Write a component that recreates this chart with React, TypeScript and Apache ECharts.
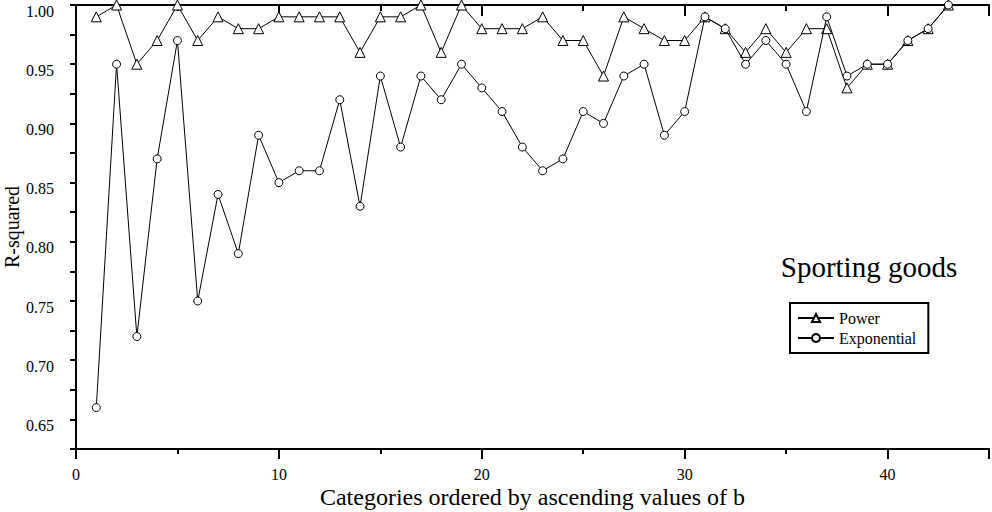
import { useEffect, useRef } from "react";
import * as echarts from "echarts";

// Category rank (ordered by ascending b)
const rank = [
  1, 2, 3, 4, 5, 6, 7, 8, 9, 10, 11, 12, 13, 14, 15, 16, 17, 18, 19, 20, 21,
  22, 23, 24, 25, 26, 27, 28, 29, 30, 31, 32, 33, 34, 35, 36, 37, 38, 39, 40,
  41, 42, 43,
];

// R-squared of the power-law fit
const powerR2 = [
  0.99, 1.0, 0.95, 0.97, 1.0, 0.97, 0.99, 0.98, 0.98, 0.99, 0.99, 0.99, 0.99,
  0.96, 0.99, 0.99, 1.0, 0.96, 1.0, 0.98, 0.98, 0.98, 0.99, 0.97, 0.97, 0.94,
  0.99, 0.98, 0.97, 0.97, 0.99, 0.98, 0.96, 0.98, 0.96, 0.98, 0.98, 0.93, 0.95,
  0.95, 0.97, 0.98, 1.0,
];

// R-squared of the exponential fit
const exponentialR2 = [
  0.66, 0.95, 0.72, 0.87, 0.97, 0.75, 0.84, 0.79, 0.89, 0.85, 0.86, 0.86, 0.92,
  0.83, 0.94, 0.88, 0.94, 0.92, 0.95, 0.93, 0.91, 0.88, 0.86, 0.87, 0.91, 0.9,
  0.94, 0.95, 0.89, 0.91, 0.99, 0.98, 0.95, 0.97, 0.95, 0.91, 0.99, 0.94, 0.95,
  0.95, 0.97, 0.98, 1.0,
];

const seriesNames = ["Power", "Exponential"];
const panelTitle = "Sporting goods";
const xAxisTitle = "Categories ordered by ascending values of b";
const yAxisTitle = "R-squared";

const FONT = "'Liberation Serif', 'Times New Roman', 'DejaVu Serif', serif";
const INK = "#000";

export default function App() {
  const ref = useRef<HTMLDivElement>(null);

  useEffect(() => {
    if (!ref.current) return;
    const chart = echarts.init(ref.current, null, { renderer: "svg" });

    const axisLine = { show: true, lineStyle: { color: INK, width: 2 } };
    const noSplit = { show: false };

    const xBase = { type: "value" as const, min: 0, max: 45, splitLine: noSplit };
    const yBase = { type: "value" as const, min: 0.625, max: 1.0, interval: 0.025, splitLine: noSplit };

    chart.setOption({
      animation: false,
      backgroundColor: "#fff",
      grid: {
        left: 76,
        right: 3,
        top: 5,
        bottom: 63,
        containLabel: false,
        outerBoundsMode: "none",
      },
      xAxis: [
        {
          ...xBase,
          position: "bottom",
          interval: 5,
          axisLine,
          axisTick: { show: true, inside: false, length: 5, lineStyle: { color: INK, width: 2 } },
          axisLabel: {
            margin: 17,
            color: INK,
            fontFamily: FONT,
            fontSize: 16,
            showMaxLabel: false,
            formatter: (v: number) => (Math.round(v) % 10 === 0 ? String(Math.round(v)) : ""),
          },
          name: xAxisTitle,
          nameLocation: "middle",
          nameGap: 36,
          nameMoveOverlap: false,
          nameTextStyle: { color: INK, fontFamily: FONT, fontSize: 24 },
        },
        {
          ...xBase,
          position: "bottom",
          interval: 10,
          axisLine: { show: false },
          axisTick: { show: true, inside: false, length: 10, lineStyle: { color: INK, width: 2 } },
          axisLabel: { show: false },
        },
        {
          ...xBase,
          position: "top",
          interval: 5,
          axisLine,
          axisTick: { show: true, inside: true, length: 6, lineStyle: { color: INK, width: 2 } },
          axisLabel: { show: false },
        },
        {
          ...xBase,
          position: "top",
          interval: 10,
          axisLine: { show: false },
          axisTick: { show: true, inside: true, length: 11, lineStyle: { color: INK, width: 2 } },
          axisLabel: { show: false },
        },
      ],
      yAxis: [
        {
          ...yBase,
          position: "left",
          axisLine,
          axisTick: { show: true, inside: false, length: 6, lineStyle: { color: INK, width: 2 } },
          axisLabel: {
            margin: 22,
            color: INK,
            fontFamily: FONT,
            fontSize: 16,
            verticalAlign: "top",
            lineHeight: 12,
            formatter: (v: number) => {
              const k = Math.round(v * 1000);
              return k % 50 === 0 ? (k / 1000).toFixed(2) : "";
            },
          },
          name: yAxisTitle,
          nameLocation: "middle",
          nameGap: 54,
          nameMoveOverlap: false,
          nameTextStyle: { color: INK, fontFamily: FONT, fontSize: 20 },
        },
        {
          ...yBase,
          position: "right",
          axisLine,
          axisTick: { show: true, inside: true, length: 6, lineStyle: { color: INK, width: 2 } },
          axisLabel: { show: false },
        },
      ],
      legend: {
        data: seriesNames,
        orient: "vertical",
        left: 790,
        top: 303,
        borderColor: INK,
        borderWidth: 2,
        borderRadius: 0,
        padding: [7, 12, 7, 7],
        itemWidth: 36,
        itemHeight: 10,
        itemGap: 4,
        textStyle: { color: INK, fontFamily: FONT, fontSize: 16 },
      },
      graphic: [
        {
          type: "text",
          x: 869,
          y: 267,
          style: {
            text: panelTitle,
            fill: INK,
            fontFamily: FONT,
            fontSize: 29,
            textAlign: "center",
            textVerticalAlign: "middle",
          },
        },
      ],
      series: [
        {
          name: seriesNames[0],
          type: "line",
          xAxisIndex: 0,
          yAxisIndex: 0,
          data: rank.map((r, i) => [r, powerR2[i]]),
          symbol: "triangle",
          symbolSize: 10,
          showAllSymbol: true,
          lineStyle: { color: INK, width: 1 },
          itemStyle: { color: "#fff", borderColor: INK, borderWidth: 1 },
          z: 2,
        },
        {
          name: seriesNames[1],
          type: "line",
          xAxisIndex: 0,
          yAxisIndex: 0,
          data: rank.map((r, i) => [r, exponentialR2[i]]),
          symbol: "circle",
          symbolSize: 8,
          showAllSymbol: true,
          lineStyle: { color: INK, width: 1 },
          itemStyle: { color: "#fff", borderColor: INK, borderWidth: 1 },
          z: 3,
        },
      ],
    });

    return () => chart.dispose();
  }, []);

  return (
    <div
      ref={ref}
      style={{ position: "absolute", left: 0, top: 0, width: 992, height: 512 }}
    />
  );
}
